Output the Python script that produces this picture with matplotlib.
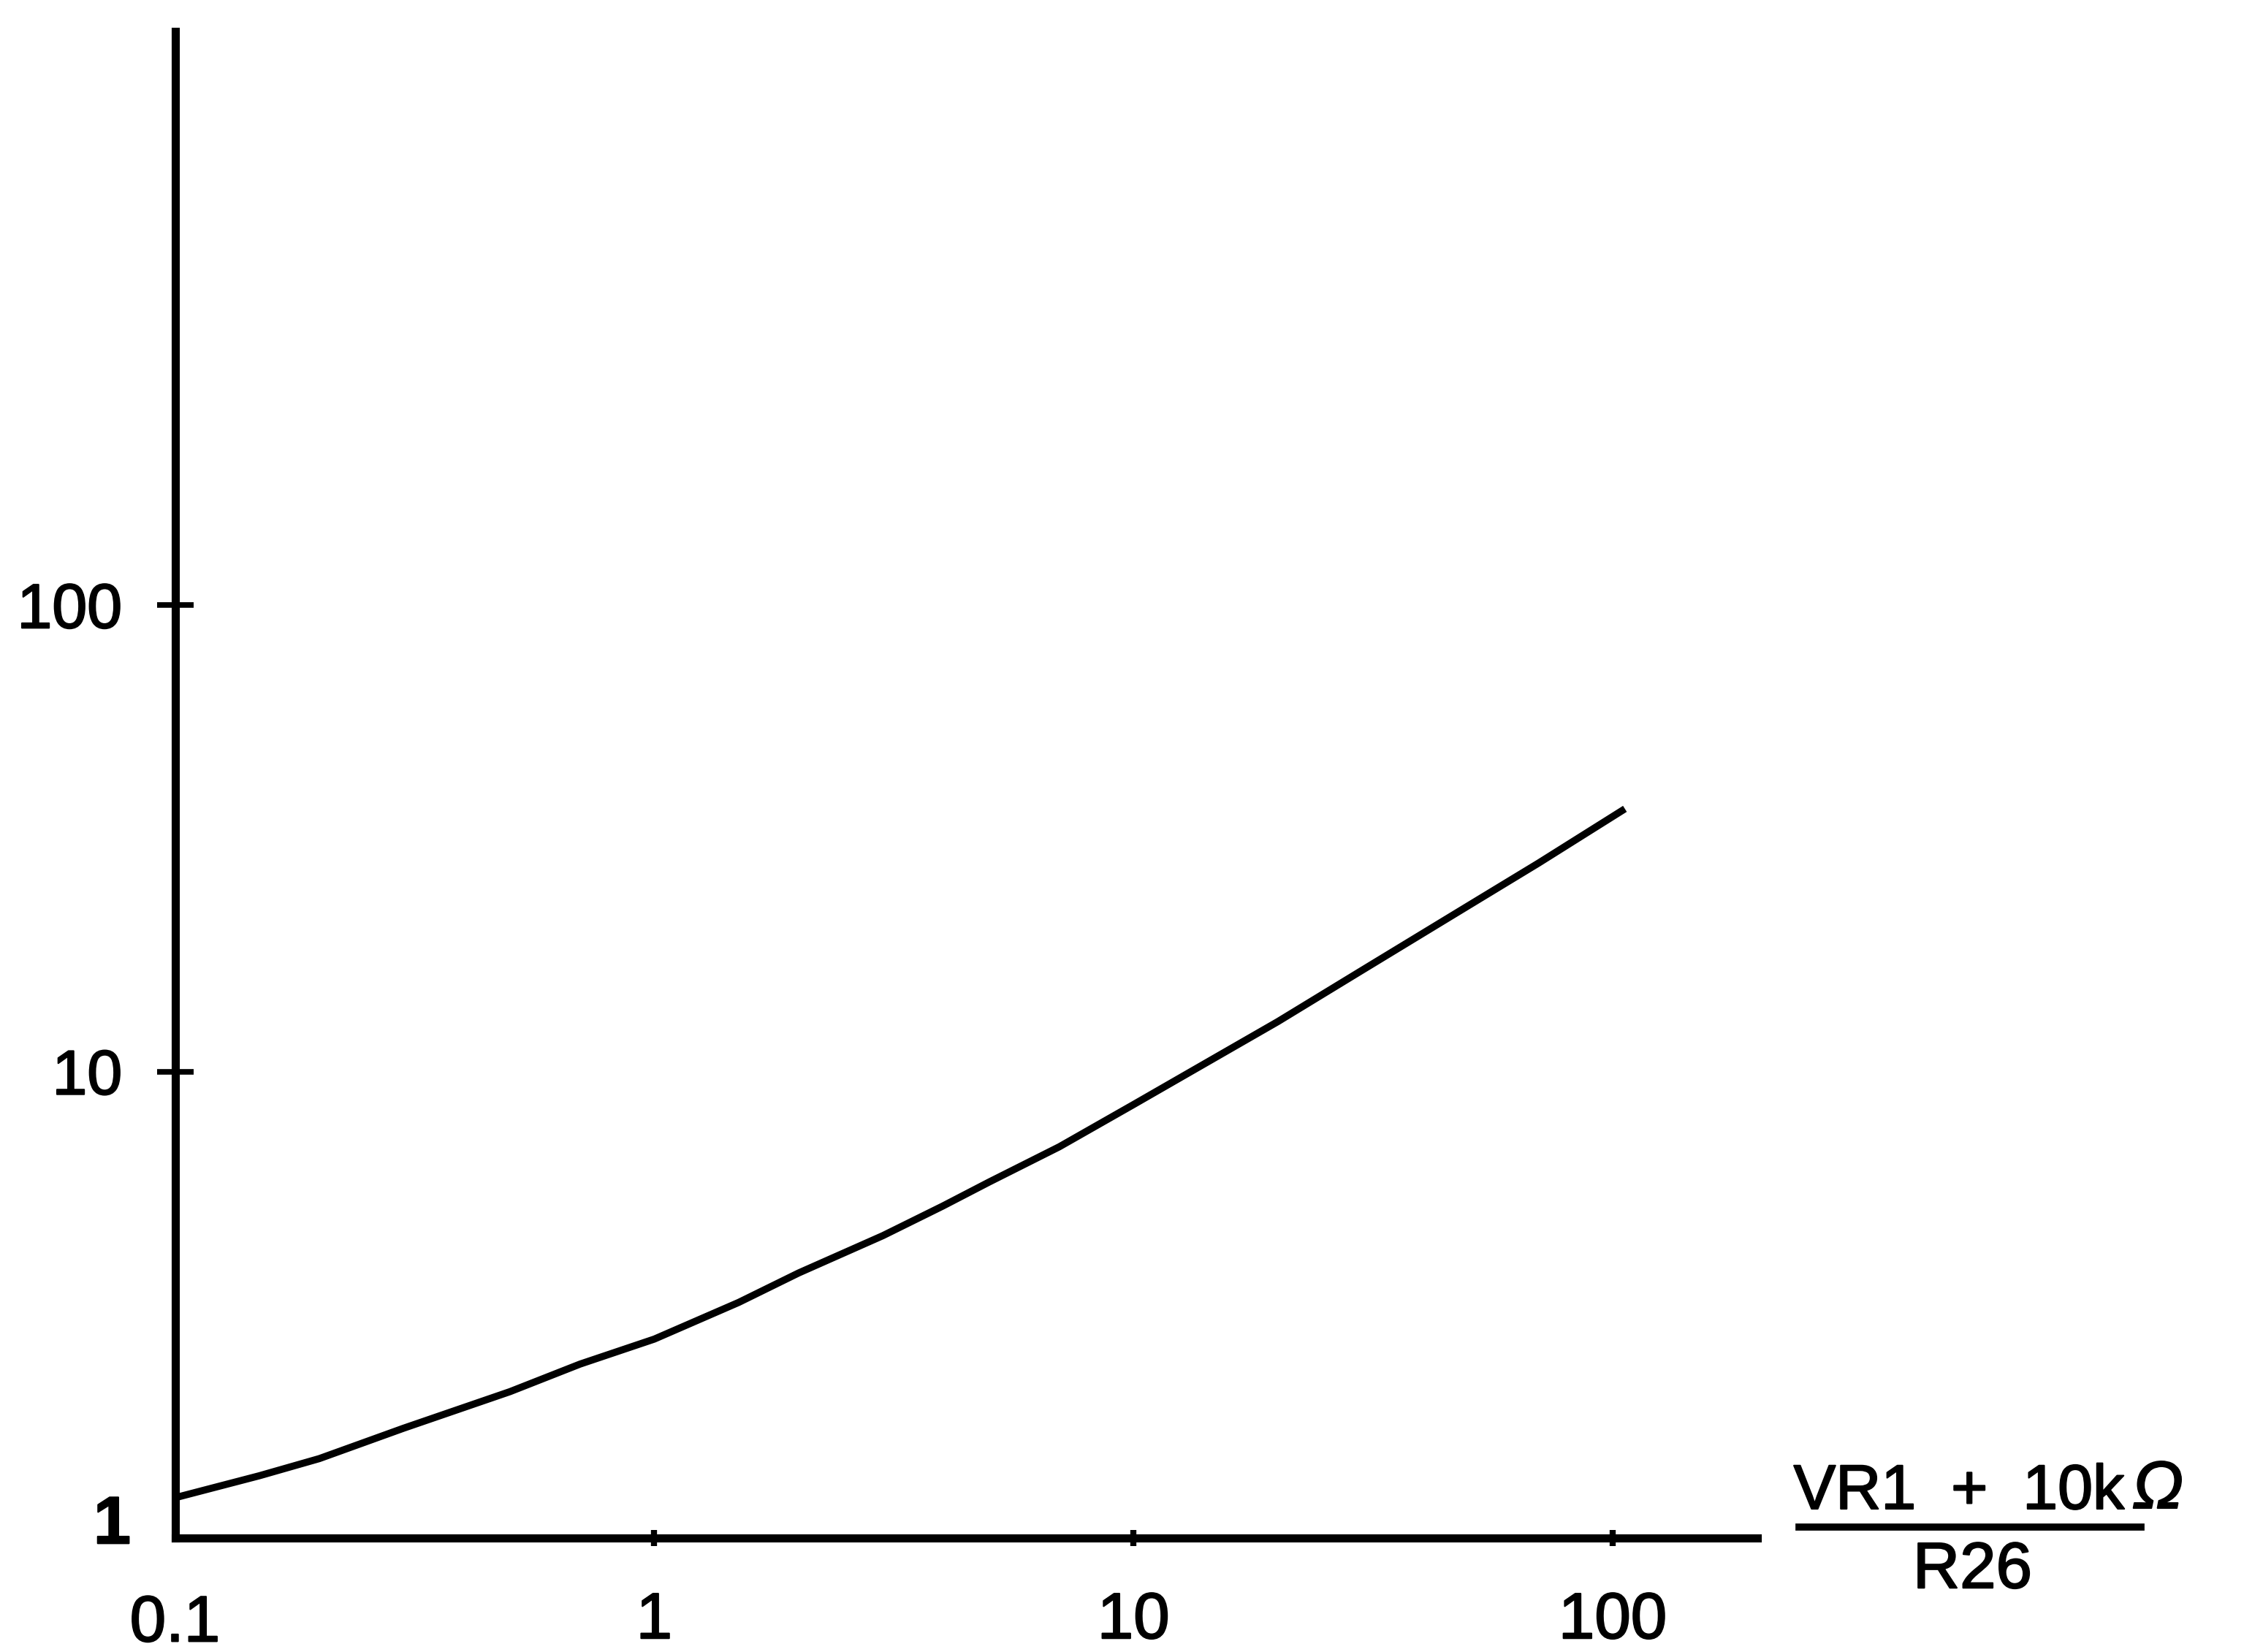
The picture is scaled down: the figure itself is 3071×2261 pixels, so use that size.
import matplotlib.pyplot as plt
import matplotlib.patheffects as pe
from matplotlib.lines import Line2D
from matplotlib.text import Text

plt.rcParams['font.family'] = ['Liberation Sans', 'DejaVu Sans']

# curve
ratio = [0.1, 0.15, 0.2, 0.3, 0.5, 0.7, 1, 1.5, 2, 3, 4, 5, 7, 10, 15, 20, 30, 50, 70, 106]
gain = [1.22, 1.36, 1.48, 1.72, 2.06, 2.36, 2.67, 3.2, 3.7, 4.45, 5.15, 5.8, 6.9, 8.5,
        10.8, 12.8, 16.5, 22.7, 28.0, 36.6]

x_ticks = [1, 10, 100]
x_labels = ['0.1', '1', '10', '100']
y_ticks = [10, 100]
y_labels = ['1', '10', '100']

fig = plt.figure(figsize=(30.71, 22.61), dpi=100)
ax = fig.add_axes([0.078, 0.069, 0.705, 0.912])

ax.plot(ratio, gain, color='black', lw=7, solid_capstyle='butt')

ax.set_xscale('log')
ax.set_yscale('log')
ax.set_xlim(0.1, 200)
ax.set_ylim(1, 1700)

for side in ['top', 'right']:
    ax.spines[side].set_visible(False)
for side in ['left', 'bottom']:
    ax.spines[side].set_linewidth(8)

ax.xaxis.set_minor_locator(plt.NullLocator())
ax.yaxis.set_minor_locator(plt.NullLocator())
ax.set_xticks(x_ticks)
ax.set_xticklabels(x_labels[1:])
ax.set_yticks(y_ticks)
ax.set_yticklabels(y_labels[1:])
ax.tick_params(axis='x', direction='inout', length=16, width=6, pad=44, labelsize=64)
ax.tick_params(axis='y', direction='inout', length=36, width=5.5, pad=34, labelsize=62)

# origin labels sit at the corner, no tick there
ax.annotate(x_labels[0], (0.1, 1), xytext=(0, -55), textcoords='offset points',
            fontsize=64, ha='center', va='top')
ax.annotate(y_labels[0], (0.1, 1), xytext=(-62, 12), textcoords='offset points',
            fontsize=66, fontweight='bold', ha='center', va='center')

# axis label as a fraction
top = fig.text(0.873, 0.0964, 'VR1  +  10k', fontsize=62, ha='center', va='center')
ax.annotate('\u03a9', xy=(1, 0), xycoords=top, xytext=(8, 0), textcoords='offset points',
            fontsize=66, style='italic', ha='left', va='bottom')
fig.text(0.879, 0.049, 'R26', fontsize=64, ha='center', va='center')
fig.add_artist(Line2D([0.8017, 0.954], [0.0756, 0.0756], transform=fig.transFigure,
                      color='black', lw=7))

# the scanned lettering is heavier than regular weight
fig.canvas.draw()
for t in fig.findobj(Text):
    t.set_path_effects([pe.withStroke(linewidth=1.5, foreground='black')])

fig.savefig('out.png', dpi=100)
